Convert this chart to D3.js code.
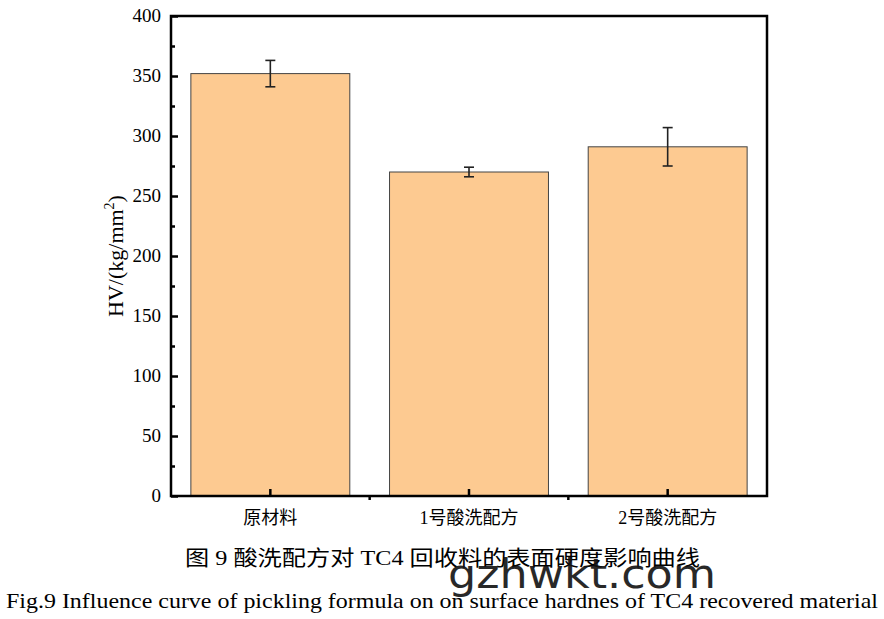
<!DOCTYPE html>
<html><head><meta charset="utf-8">
<script src="https://cdn.jsdelivr.net/npm/d3@7"></script>
<style>body{margin:0;background:#fff}svg{display:block}</style>
</head><body><svg id="c" width="884" height="619"></svg>
<script>
const categories = ["原材料", "1号酸洗配方", "2号酸洗配方"];
const values = [352, 270, 291];
const errors = [11, 4, 16];
const yTicks = [0, 50, 100, 150, 200, 250, 300, 350, 400];

const svg = d3.select("#c");
const L = 171, R = 767, T = 16, B = 496;
const serif = "Liberation Serif, Noto Sans CJK SC, serif";

const x = d3.scaleBand().domain(categories).range([L, R]).paddingInner(0.2).paddingOuter(0.1);
const y = d3.scaleLinear().domain([0, 400]).range([B, T]);

svg.selectAll("rect.bar").data(values).enter().append("rect")
  .attr("x", (d, i) => x(categories[i]))
  .attr("y", d => y(d))
  .attr("width", x.bandwidth())
  .attr("height", d => B - y(d))
  .attr("fill", "#fdca91").attr("stroke", "#444").attr("stroke-width", 1);

const eg = svg.append("g").attr("stroke", "#222").attr("stroke-width", 1.6);
values.forEach((v, i) => {
  const cx = x(categories[i]) + x.bandwidth() / 2;
  eg.append("line").attr("x1", cx).attr("x2", cx).attr("y1", y(v + errors[i])).attr("y2", y(v - errors[i]));
  eg.append("line").attr("x1", cx - 5).attr("x2", cx + 5).attr("y1", y(v + errors[i])).attr("y2", y(v + errors[i]));
  eg.append("line").attr("x1", cx - 5).attr("x2", cx + 5).attr("y1", y(v - errors[i])).attr("y2", y(v - errors[i]));
});

svg.append("rect").attr("x", L).attr("y", T).attr("width", R - L).attr("height", B - T)
  .attr("fill", "none").attr("stroke", "#000").attr("stroke-width", 2.5);

const yAxis = d3.axisRight(y).tickValues(yTicks).tickSize(7).tickFormat("");
const ya = svg.append("g").attr("transform", `translate(${L},0)`).call(yAxis);
ya.select(".domain").remove();
ya.selectAll(".tick line").attr("stroke-width", 2.5);
const yMinor = d3.axisRight(y).tickValues(d3.range(25, 400, 50)).tickSize(4).tickFormat("");
const ym = svg.append("g").attr("transform", `translate(${L},0)`).call(yMinor);
ym.select(".domain").remove();
ym.selectAll(".tick line").attr("stroke-width", 2.5);
svg.append("g").selectAll("text").data(yTicks).enter().append("text")
  .attr("x", L - 10).attr("y", d => y(d) + 6).attr("text-anchor", "end")
  .attr("font-family", serif).attr("font-size", 19).text(d => d);

const xa = svg.append("g").attr("transform", `translate(0,${B})`)
  .call(d3.axisTop(x).tickSize(7).tickFormat(""));
xa.select(".domain").remove();
xa.selectAll(".tick line").attr("stroke-width", 2.5);
const step = x.step();
const bounds = categories.slice(1).map(c => x(c) - x.paddingInner() * step / 2);
svg.append("g").selectAll("line").data(bounds).enter().append("line")
  .attr("x1", d => d).attr("x2", d => d).attr("y1", B).attr("y2", B + 4)
  .attr("stroke", "#000").attr("stroke-width", 2.5);
svg.append("g").selectAll("text").data(categories).enter().append("text")
  .attr("x", d => x(d) + x.bandwidth() / 2).attr("y", 524).attr("text-anchor", "middle")
  .attr("font-family", serif).attr("font-size", 18).text(d => d);

const yt = svg.append("text").attr("transform", `translate(123,${(T + B) / 2}) rotate(-90)`)
  .attr("text-anchor", "middle").attr("font-family", serif).attr("font-size", 22);
yt.append("tspan").text("HV/(kg/mm");
yt.append("tspan").attr("font-size", 14).attr("dy", -9).text("2");
yt.append("tspan").attr("dy", 9).text(")");

svg.append("text").attr("x", 185).attr("y", 565).attr("textLength", 515).attr("lengthAdjust", "spacingAndGlyphs")
  .attr("font-family", serif).attr("font-size", 21).text("图 9  酸洗配方对 TC4 回收料的表面硬度影响曲线");
svg.append("text").attr("x", 6).attr("y", 608).attr("textLength", 872).attr("lengthAdjust", "spacingAndGlyphs")
  .attr("font-family", serif).attr("font-size", 22).text("Fig.9 Influence curve of pickling formula on on surface hardnes of TC4 recovered material");
svg.append("text").attr("x", 448).attr("y", 588).attr("textLength", 268).attr("lengthAdjust", "spacingAndGlyphs")
  .attr("font-family", "DejaVu Sans, sans-serif").attr("font-size", 40).attr("fill", "#111").attr("opacity", 0.9).text("gzhwkt.com");
</script></body></html>
